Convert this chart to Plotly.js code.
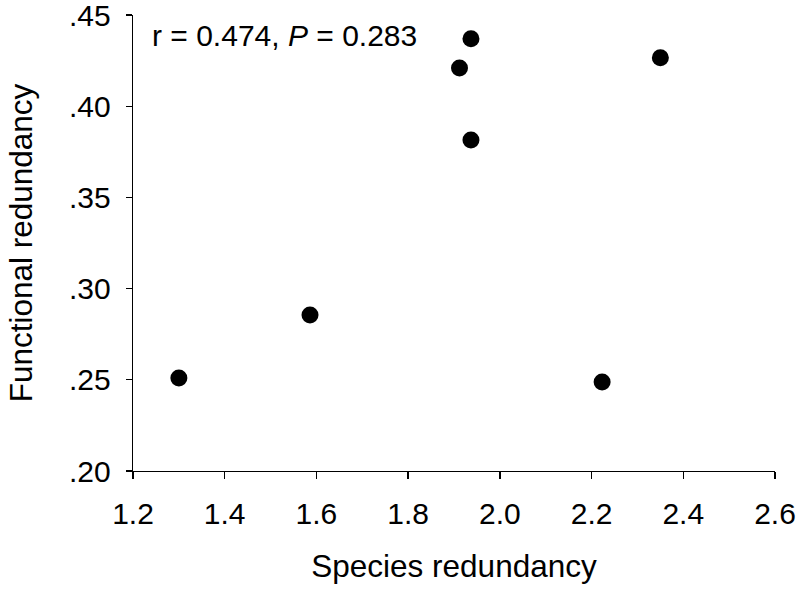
<!DOCTYPE html>
<html>
<head>
<meta charset="utf-8">
<script src="https://cdn.plot.ly/plotly-3.0.1.min.js"></script>
<style>html,body{margin:0;padding:0;background:#fff;}#chart{width:800px;height:590px;}</style>
</head>
<body>
<div id="chart"></div>
<script>
const speciesRedundancy = [1.30, 1.586, 1.912, 1.937, 1.937, 2.350, 2.223];
const functionalRedundancy = [0.251, 0.2855, 0.421, 0.437, 0.3815, 0.4265, 0.2488];
const xTickVals = [1.2, 1.4, 1.6, 1.8, 2.0, 2.2, 2.4, 2.6];
const yTickVals = [0.20, 0.25, 0.30, 0.35, 0.40, 0.45];
const yTickText = ['.20', '.25', '.30', '.35', '.40', '.45'];
const statText = 'r = 0.474, <i>P</i> = 0.283';

const fam = 'Liberation Sans, Arial, sans-serif';
const tickFont = {family: fam, size: 30, color: '#000'};
const titleFont = {family: fam, size: 31.5, color: '#000'};

const trace = {
  x: speciesRedundancy,
  y: functionalRedundancy,
  type: 'scatter',
  mode: 'markers',
  marker: {color: '#000', size: 17},
  cliponaxis: false,
  showlegend: false
};

const layout = {
  width: 800, height: 590,
  margin: {l: 133, r: 25, t: 15, b: 119},
  paper_bgcolor: '#fff', plot_bgcolor: '#fff',
  font: tickFont,
  xaxis: {
    range: [1.2, 2.6000001], tickvals: xTickVals, tickformat: '.1f',
    showgrid: false, zeroline: false, showline: true, linecolor: '#000', linewidth: 1.3,
    ticks: 'outside', ticklen: 7, tickwidth: 1.3, tickcolor: '#000',
    tickfont: tickFont, ticklabelstandoff: 9, ticklabeloverflow: 'allow',
    title: {text: 'Species redundancy', font: titleFont, standoff: 25}
  },
  yaxis: {
    range: [0.2, 0.4500001], tickvals: yTickVals, ticktext: yTickText,
    showgrid: false, zeroline: false, showline: true, linecolor: '#000', linewidth: 1.3,
    ticks: 'outside', ticklen: 6, tickwidth: 1.3, tickcolor: '#000',
    tickfont: tickFont, ticklabelstandoff: 9, ticklabeloverflow: 'allow',
    title: {text: 'Functional redundancy', font: titleFont, standoff: 27}
  },
  annotations: [{
    xref: 'paper', yref: 'paper', x: 0.027, y: 0.955, xanchor: 'left', yanchor: 'middle',
    text: statText, showarrow: false, font: tickFont
  }]
};

Plotly.newPlot('chart', [trace], layout, {displayModeBar: false, staticPlot: true});
</script>
</body>
</html>
